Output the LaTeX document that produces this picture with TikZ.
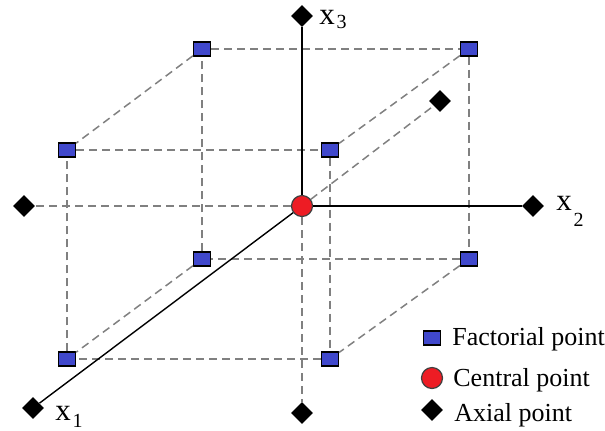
\documentclass[tikz,border=0pt]{standalone}
\usepackage{fontspec}
\setmainfont{Liberation Serif}
\usetikzlibrary{shapes.geometric}

\definecolor{factblue}{RGB}{64,72,204}
\definecolor{centred}{RGB}{237,28,36}

\newcommand{\axlab}[2]{x\kern0.8pt\raisebox{#2}{\fontsize{10}{10}\selectfont #1}}

\begin{document}
\begin{tikzpicture}[x=0.5pt,y=-0.5pt,line join=miter]
  \tikzset{
    factorial/.style={rectangle,draw=black,line width=0.6pt,fill=factblue,
      minimum width=8.5pt,minimum height=7pt,inner sep=0pt},
    central/.style={circle,draw=black!75,line width=0.6pt,fill=centred,
      minimum size=10.5pt,inner sep=0pt},
    axial/.style={diamond,fill=black,minimum size=11pt,inner sep=0pt},
    hidden/.style={gray,line width=0.75pt,dash pattern=on 4pt off 2.5pt},
    axis/.style={black,line width=1pt},
    lbl/.style={inner sep=0pt,anchor=base west,font=\fontsize{15.5}{16}\selectfont},
    legtext/.style={inner sep=0pt,anchor=base west,font=\fontsize{13}{14}\selectfont}
  }
  \useasboundingbox (0,0) rectangle (605,430);

  % cube corners: back face, then front face
  \node[factorial] (b1) at (202,49) {};
  \node[factorial] (b2) at (469,49) {};
  \node[factorial] (b3) at (202,259) {};
  \node[factorial] (b4) at (469,259) {};
  \node[factorial] (f1) at (67,150) {};
  \node[factorial] (f2) at (330,150) {};
  \node[factorial] (f3) at (67,359) {};
  \node[factorial] (f4) at (330,359) {};

  % centre and star points
  \node[central] (c) at (302,206) {};
  \node[axial] (a3) at (302,16) {};
  \node[axial] (a3m) at (302,413) {};
  \node[axial] (a2) at (533,206) {};
  \node[axial] (a2m) at (24,206) {};
  \node[axial] (a1) at (33,408) {};
  \node[axial] (a1m) at (440,101) {};

  % cube edges
  \draw[hidden] (b1) -- (b2) -- (b4) -- (b3) -- (b1);
  \draw[hidden] (f1) -- (f2) -- (f4) -- (f3) -- (f1);
  \draw[hidden] (b1) -- (f1);
  \draw[hidden] (b2) -- (f2);
  \draw[hidden] (b3) -- (f3);
  \draw[hidden] (b4) -- (f4);

  % axes
  \draw[axis] (c) -- (a3);
  \draw[axis] (c) -- (a2);
  \draw[axis,line width=0.7pt] (c) -- (a1);
  \draw[hidden] (c) -- (a3m);
  \draw[hidden] (c) -- (a2m);
  \draw[hidden] (c) -- (a1m);

  \node[lbl] (l3) at (319,24) {\axlab{3}{-2pt}};
  \node[lbl] (l2) at (556,210) {\axlab{2}{-8pt}};
  \node[lbl] (l1) at (55,420) {\axlab{1}{-3.5pt}};

  % legend
  \node[factorial] (lf) at (432,338) {};
  \node[legtext] (lft) at (452,345) {Factorial point};
  \node[central] (lc) at (432,378) {};
  \node[legtext] (lct) at (453,386) {Central point};
  \node[axial] (la) at (432,410) {};
  \node[legtext] (lat) at (454,421) {Axial point};
\end{tikzpicture}
\end{document}
